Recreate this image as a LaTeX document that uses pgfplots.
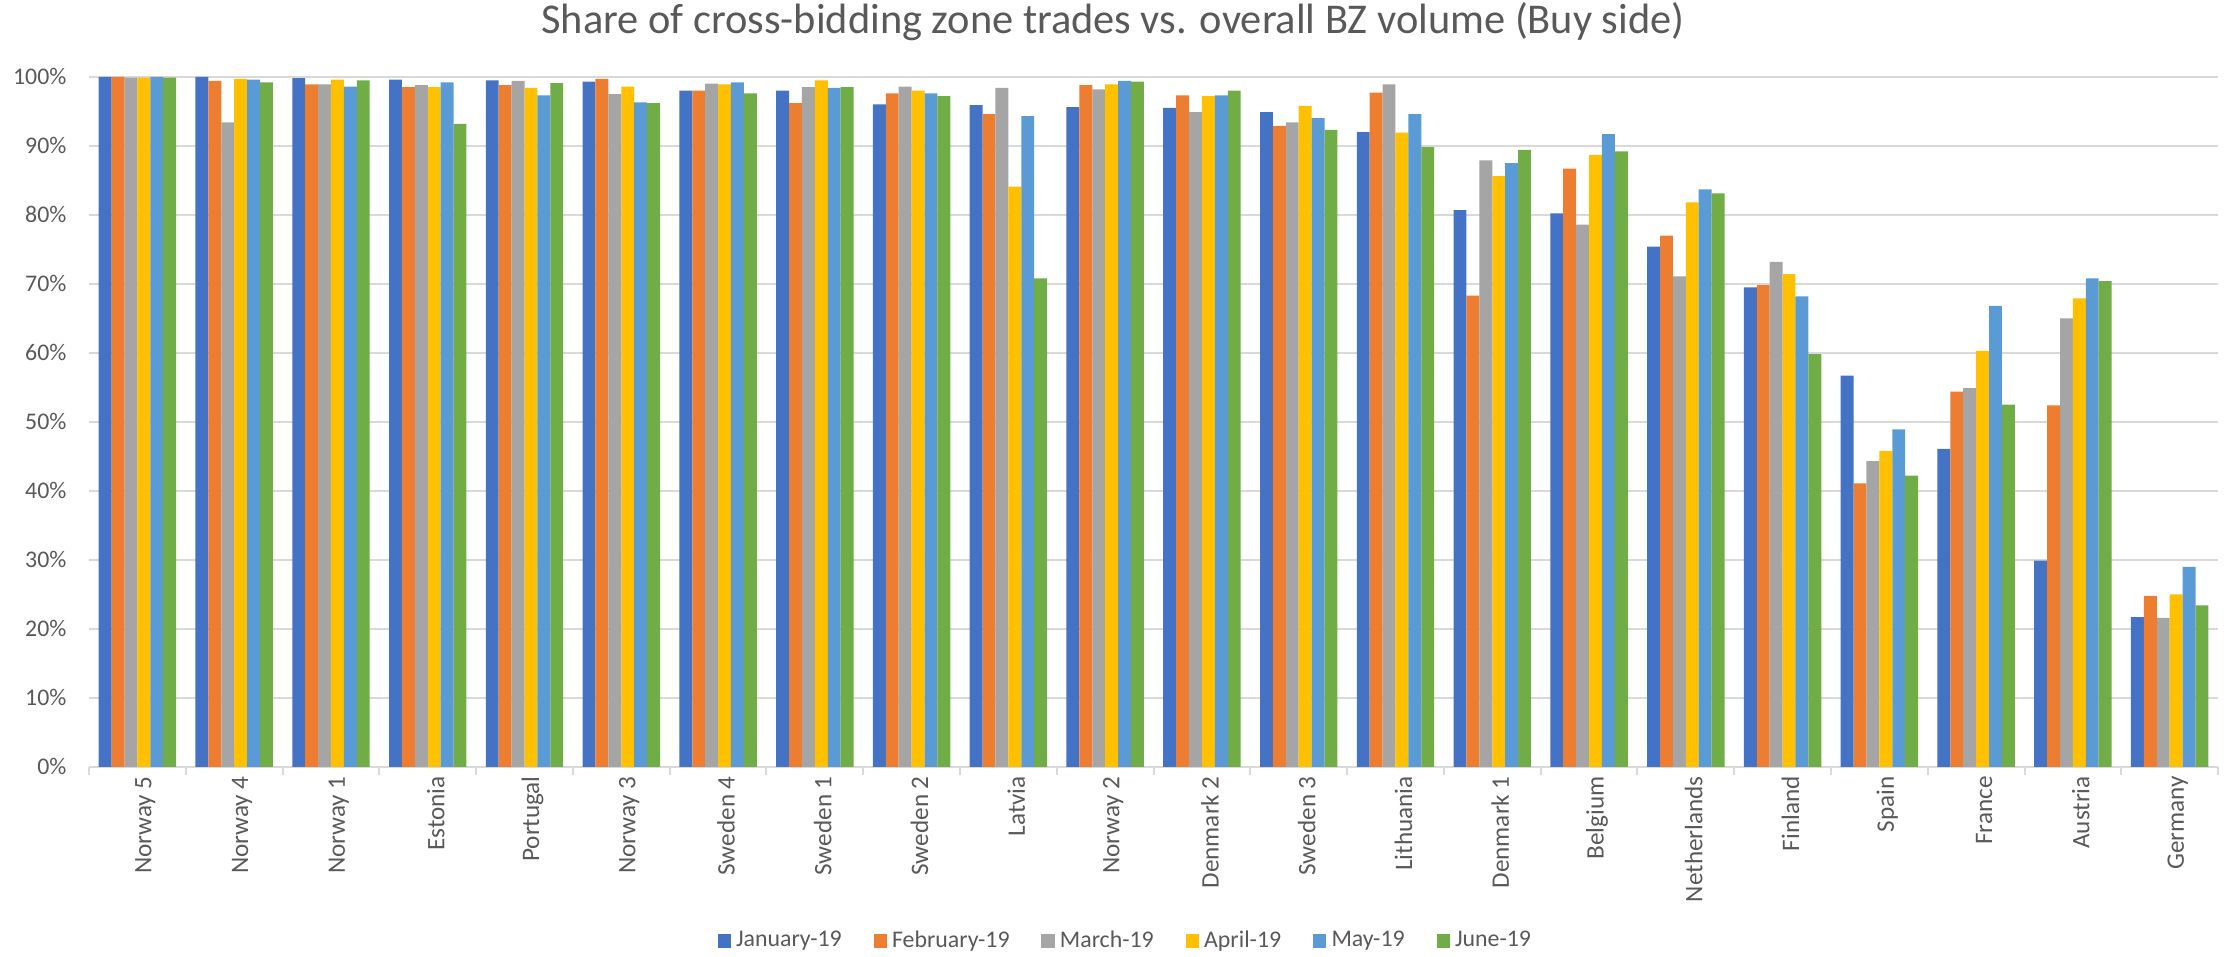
\documentclass[border=0pt]{standalone}
\usepackage{fontspec}
\setmainfont{Carlito}
\usepackage{pgfplots}
\usepackage{pgfplotstable}
\pgfplotsset{compat=1.18}

\definecolor{cJan}{HTML}{4472C4}
\definecolor{cFeb}{HTML}{ED7D31}
\definecolor{cMar}{HTML}{A5A5A5}
\definecolor{cApr}{HTML}{FFC000}
\definecolor{cMay}{HTML}{5B9BD5}
\definecolor{cJun}{HTML}{70AD47}
\definecolor{txt}{HTML}{595959}
\definecolor{gridc}{HTML}{D9D9D9}

% share of cross-bidding zone trades, %
\pgfplotstableread{
x  jan   feb   mar   apr   may   jun
0  100.0 100.0 99.9  99.9  100.0 99.9
1  100.0 99.4  93.4  99.7  99.6  99.2
2  99.8  98.9  98.9  99.6  98.6  99.5
3  99.6  98.5  98.8  98.5  99.2  93.2
4  99.5  98.8  99.4  98.4  97.3  99.1
5  99.3  99.7  97.5  98.6  96.3  96.2
6  98.0  98.0  99.0  98.9  99.2  97.6
7  98.0  96.2  98.5  99.5  98.4  98.5
8  96.0  97.6  98.6  98.0  97.6  97.2
9  95.9  94.6  98.4  84.1  94.3  70.8
10 95.6  98.8  98.2  98.9  99.4  99.3
11 95.5  97.3  94.9  97.2  97.3  98.0
12 94.9  92.9  93.4  95.8  94.0  92.3
13 92.0  97.7  98.9  91.9  94.6  89.8
14 80.7  68.3  87.9  85.6  87.5  89.4
15 80.2  86.7  78.6  88.7  91.7  89.2
16 75.4  77.0  71.1  81.8  83.7  83.1
17 69.5  69.8  73.2  71.4  68.2  59.8
18 56.7  41.1  44.3  45.8  48.9  42.2
19 46.1  54.4  54.9  60.3  66.8  52.5
20 29.9  52.4  65.0  67.9  70.8  70.4
21 21.7  24.8  21.6  25.0  29.0  23.4
}\shares

\begin{document}
\begin{tikzpicture}
\useasboundingbox (0,0) rectangle (840pt,361pt);
\begin{axis}[
  at={(33.6pt,71.6pt)}, anchor=south west,
  scale only axis,
  width=803.4pt, height=260.4pt,
  ybar=0pt, bar width=4.87pt,
  xmin=-0.5, xmax=21.5,
  ymin=0, ymax=100,
  xtick={0,...,21},
  xticklabels={Norway 5,Norway 4,Norway 1,Estonia,Portugal,Norway 3,Sweden 4,Sweden 1,Sweden 2,Latvia,Norway 2,Denmark 2,Sweden 3,Lithuania,Denmark 1,Belgium,Netherlands,Finland,Spain,France,Austria,Germany},
  minor xtick={-0.5,0.5,...,21.5},
  ytick={0,10,...,100},
  yticklabels={0\%,10\%,20\%,30\%,40\%,50\%,60\%,70\%,80\%,90\%,100\%},
  major tick length=0pt,
  minor tick length=3pt,
  tick align=outside,
  minor tick style={gridc, line width=0.75pt},
  axis x line*=bottom, axis y line*=left,
  x axis line style={gridc, line width=0.75pt, -},
  y axis line style={draw=none},
  ymajorgrids, grid style={gridc, line width=0.75pt},
  tick label style={font=\fontsize{9}{10}\selectfont, text=txt},
  xticklabel style={rotate=90, anchor=east, yshift=-3pt, font=\fontsize{9.5}{10}\selectfont},
  yticklabel style={xshift=-5pt},
  title={Share of cross-bidding zone trades vs. overall BZ volume (Buy side)},
  title style={at={(axis description cs:0.481,1.0565)}, anchor=center, font=\fontsize{16}{18}\selectfont, text=txt},
  legend columns=6,
  legend style={at={(axis description cs:0.4875,-0.2523)}, anchor=center, draw=none,
    font=\fontsize{9}{10}\selectfont, text=txt,
    /tikz/every even column/.append style={column sep=10pt}},
  legend image code/.code={\fill[#1] (0pt,-2.5pt) rectangle (5pt,2.5pt);},
]
\addplot[fill=cJan, draw=none] table[x=x, y=jan] {\shares};
\addplot[fill=cFeb, draw=none] table[x=x, y=feb] {\shares};
\addplot[fill=cMar, draw=none] table[x=x, y=mar] {\shares};
\addplot[fill=cApr, draw=none] table[x=x, y=apr] {\shares};
\addplot[fill=cMay, draw=none] table[x=x, y=may] {\shares};
\addplot[fill=cJun, draw=none] table[x=x, y=jun] {\shares};
\legend{January-19,February-19,March-19,April-19,May-19,June-19}
\end{axis}
\end{tikzpicture}
\end{document}
